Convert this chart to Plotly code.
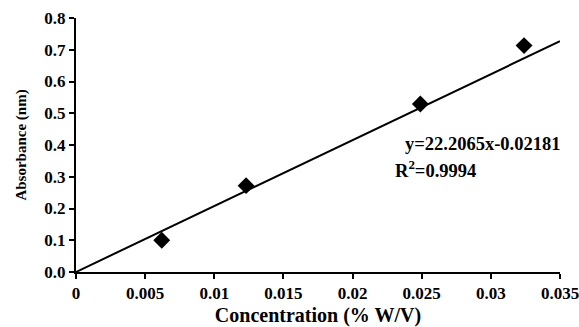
import plotly.graph_objects as go

conc = [0.0062, 0.0123, 0.0249, 0.0324]
absorb = [0.10, 0.272, 0.529, 0.713]
fit_x = [0.0, 0.035]
fit_y = [0.0, 0.727]
x_ticks = [0, 0.005, 0.01, 0.015, 0.02, 0.025, 0.03, 0.035]
x_tick_labels = ["0", "0.005", "0.01", "0.015", "0.02", "0.025", "0.03", "0.035"]
y_ticks = [0.0, 0.1, 0.2, 0.3, 0.4, 0.5, 0.6, 0.7, 0.8]
y_tick_labels = ["0.0", "0.1", "0.2", "0.3", "0.4", "0.5", "0.6", "0.7", "0.8"]
eq_text = "y=22.2065x-0.02181"
r2_text = "R<sup>2</sup>=0.9994"

font = "Liberation Serif"

fig = go.Figure()
fig.add_trace(go.Scatter(x=fit_x, y=fit_y, mode="lines",
                         line=dict(color="black", width=2), showlegend=False))
fig.add_trace(go.Scatter(x=conc, y=absorb, mode="markers",
                         marker=dict(symbol="diamond", size=13, color="black"),
                         showlegend=False))

fig.add_annotation(x=0.02365, y=0.402, xref="x", yref="y", text="<b>" + eq_text + "</b>",
                   showarrow=False, xanchor="left", yanchor="middle",
                   font=dict(family=font, size=18.5, color="black"))
fig.add_annotation(x=0.0229, y=0.326, xref="x", yref="y", text="<b>" + r2_text + "</b>",
                   showarrow=False, xanchor="left", yanchor="middle",
                   font=dict(family=font, size=18.5, color="black"))

fig.update_layout(
    width=579, height=327,
    margin=dict(l=76, r=19, t=18, b=55, autoexpand=False),
    plot_bgcolor="white", paper_bgcolor="white",
    font=dict(family=font, color="black"),
)
fig.update_xaxes(range=[0, 0.035], tickvals=x_ticks, ticktext=x_tick_labels,
                 showline=True, linecolor="black", linewidth=2,
                 ticks="outside", ticklen=5, tickwidth=2, tickcolor="black",
                 showgrid=False, zeroline=False, automargin=False,
                 ticklabeloverflow="allow",
                 tickfont=dict(family=font, size=17, color="black", weight="bold"),
                 title=dict(text="<b>Concentration (% W/V)</b>", standoff=7,
                            font=dict(family=font, size=20, color="black")))
fig.update_yaxes(range=[0, 0.8], tickvals=y_ticks, ticktext=y_tick_labels,
                 showline=True, linecolor="black", linewidth=2,
                 ticks="outside", ticklen=5, tickwidth=2, tickcolor="black",
                 showgrid=False, zeroline=False, automargin=False,
                 tickfont=dict(family=font, size=17, color="black", weight="bold"),
                 title=dict(text="<b>Absorbance (nm)</b>", standoff=14,
                            font=dict(family=font, size=15, color="black")))

fig.write_html("out.html", config={"displayModeBar": False},
               post_script="document.body.style.margin='0';")
